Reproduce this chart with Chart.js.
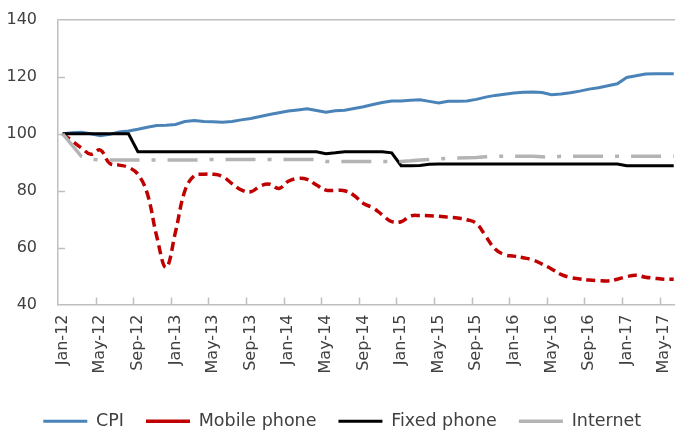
<!DOCTYPE html>
<html>
<head>
<meta charset="utf-8">
<script src="https://cdn.jsdelivr.net/npm/chart.js@4"></script>
<style>
  html, body { margin: 0; padding: 0; overflow: hidden; background: #fff; }
  #wrap { width: 696px; height: 440px; position: relative; }
</style>
</head>
<body>
<div id="wrap"><canvas id="lineChart"></canvas></div>
<script>
// months Jan-12 .. Jun-17
const months = [
  'Jan-12', 'Feb-12', 'Mar-12', 'Apr-12', 'May-12', 'Jun-12', 'Jul-12', 'Aug-12', 'Sep-12', 'Oct-12', 'Nov-12', 'Dec-12',
  'Jan-13', 'Feb-13', 'Mar-13', 'Apr-13', 'May-13', 'Jun-13', 'Jul-13', 'Aug-13', 'Sep-13', 'Oct-13', 'Nov-13', 'Dec-13',
  'Jan-14', 'Feb-14', 'Mar-14', 'Apr-14', 'May-14', 'Jun-14', 'Jul-14', 'Aug-14', 'Sep-14', 'Oct-14', 'Nov-14', 'Dec-14',
  'Jan-15', 'Feb-15', 'Mar-15', 'Apr-15', 'May-15', 'Jun-15', 'Jul-15', 'Aug-15', 'Sep-15', 'Oct-15', 'Nov-15', 'Dec-15',
  'Jan-16', 'Feb-16', 'Mar-16', 'Apr-16', 'May-16', 'Jun-16', 'Jul-16', 'Aug-16', 'Sep-16', 'Oct-16', 'Nov-16', 'Dec-16',
  'Jan-17', 'Feb-17', 'Mar-17', 'Apr-17', 'May-17', 'Jun-17'
];

const cpi = [
  100.0, 100.4, 100.5, 100.0, 99.3, 99.8, 100.6, 101.0, 101.6, 102.3, 102.9, 103.0,
  103.3, 104.3, 104.7, 104.3, 104.2, 104.1, 104.3, 104.9, 105.4, 106.1, 106.8, 107.4,
  108.0, 108.4, 108.8, 108.2, 107.6, 108.1, 108.3, 108.9, 109.5, 110.3, 111.0, 111.5,
  111.5, 111.8, 112.0, 111.4, 110.8, 111.4, 111.4, 111.5, 112.1, 112.9, 113.5, 113.9,
  114.3, 114.6, 114.7, 114.5, 113.7, 114.0, 114.4, 115.0, 115.7, 116.2, 116.9, 117.6,
  119.8, 120.4, 121.0, 121.1, 121.1, 121.1
];

const mobilePhone = [
  100.0, 97.5, 95.0, 92.8, 94.3, 89.6, 89.0, 88.2, 85.8, 79.0, 64.0, 53.0,
  65.5, 80.0, 85.3, 85.8, 85.8, 85.0, 82.5, 80.3, 79.6, 81.6, 82.3, 80.8,
  83.3, 84.3, 84.0, 82.0, 80.2, 80.1, 80.0, 78.3, 75.5, 74.0, 71.5, 69.1,
  69.1, 71.1, 71.3, 71.2, 71.0, 70.7, 70.4, 69.8, 68.5, 64.0, 59.5, 57.5,
  57.0, 56.4, 55.7, 54.2, 52.5, 50.6, 49.5, 49.0, 48.6, 48.4, 48.3, 48.9,
  49.8, 50.3, 49.6, 49.2, 48.9, 48.9
];

const fixedPhone = [
  100.0, 100.0, 100.0, 100.0, 100.0, 100.0, 100.0, 100.0, 93.7, 93.7, 93.7, 93.7,
  93.7, 93.7, 93.7, 93.7, 93.7, 93.7, 93.7, 93.7, 93.7, 93.7, 93.7, 93.7,
  93.7, 93.7, 93.7, 93.7, 93.0, 93.3, 93.7, 93.7, 93.7, 93.7, 93.7, 93.3,
  88.8, 88.8, 88.9, 89.3, 89.4, 89.4, 89.4, 89.4, 89.4, 89.4, 89.4, 89.4,
  89.4, 89.4, 89.4, 89.4, 89.4, 89.4, 89.4, 89.4, 89.4, 89.4, 89.4, 89.4,
  88.8, 88.8, 88.8, 88.8, 88.8, 88.8
];

const internet = [
  100.0, 96.0, 92.0, 91.0, 90.8, 90.8, 90.8, 90.8, 90.8, 90.8, 90.8, 90.8,
  90.8, 90.8, 90.8, 90.8, 91.0, 91.0, 91.0, 91.0, 91.0, 91.0, 91.0, 91.0,
  91.0, 91.0, 91.0, 91.0, 90.3, 90.3, 90.3, 90.3, 90.3, 90.3, 90.3, 90.3,
  90.3, 90.5, 90.8, 91.0, 91.2, 91.4, 91.5, 91.6, 91.7, 91.9, 92.1, 92.1,
  92.1, 92.1, 92.1, 91.9, 91.7, 92.1, 92.1, 92.1, 92.1, 92.1, 92.1, 92.1,
  92.1, 92.1, 92.1, 92.1, 92.1, 92.1
];

const yTicks = [40, 60, 80, 100, 120, 140];

const axisColor = '#bfbfbf';
const textColor = '#404040';
const fontFamily = "'DejaVu Sans', sans-serif";

// small tick marks drawn inside the plot, like the original
const innerTicks = {
  id: 'innerTicks',
  beforeDatasetsDraw(chart) {
    const { ctx, chartArea, scales } = chart;
    ctx.save();
    ctx.strokeStyle = axisColor;
    ctx.lineWidth = 1.5;
    ctx.beginPath();
    yTicks.forEach(v => {
      if (v > yTicks[0] && v < yTicks[yTicks.length - 1]) {
        const y = Math.round(scales.y.getPixelForValue(v)) + 0.5;
        ctx.moveTo(chartArea.left, y);
        ctx.lineTo(chartArea.left + 7, y);
      }
    });
    months.forEach((m, i) => {
      if (i > 0 && i % 4 === 0) {
        const x = Math.round((scales.x.getPixelForValue(i - 1) + scales.x.getPixelForValue(i)) / 2) + 0.5;
        ctx.moveTo(x, chartArea.bottom);
        ctx.lineTo(x, chartArea.bottom - 7);
      }
    });
    ctx.stroke();
    ctx.restore();
  }
};

const ctx = document.getElementById('lineChart').getContext('2d');
const chart = new Chart(ctx, {
  type: 'line',
  data: {
    labels: months,
    datasets: [
      { label: 'CPI', data: cpi, borderColor: '#4a83b8', borderWidth: 3, tension: 0, order: 4 },
      { label: 'Mobile phone', data: mobilePhone, borderColor: '#c00000', borderWidth: 3.5,
        borderDash: [9, 5], tension: 0.4, order: 3 },
      { label: 'Fixed phone', data: fixedPhone, borderColor: '#000000', borderWidth: 3, tension: 0, order: 2 },
      { label: 'Internet', data: internet, borderColor: '#b4b4b4', borderWidth: 3.5,
        borderDash: [30, 12, 4, 12], tension: 0, order: 1 }
    ]
  },
  options: {
    responsive: true,
    maintainAspectRatio: false,
    animation: false,
    devicePixelRatio: 1,
    elements: { point: { radius: 0 }, line: { fill: false } },
    layout: { padding: { top: 20, right: 11.6, left: 0, bottom: 0 } },
    scales: {
      x: {
        offset: true,
        grid: { color: 'transparent', tickColor: 'transparent', drawTicks: true, tickLength: 7 },
        border: { color: axisColor, width: 1.5 },
        ticks: {
          autoSkip: false,
          minRotation: 90,
          maxRotation: 90,
          padding: 3,
          color: textColor,
          font: { family: fontFamily, size: 16 },
          callback: function (val, i) { return i % 4 === 0 ? this.getLabelForValue(val) : ''; }
        },
        afterFit: scale => { scale.height = 86; }
      },
      y: {
        min: 40,
        max: 140,
        afterBuildTicks: scale => { scale.ticks = yTicks.map(v => ({ value: v })); },
        grid: {
          drawTicks: true,
          tickLength: 18,
          tickColor: 'transparent',
          lineWidth: 1.5,
          color: c => (c.tick && c.tick.value === 140 ? axisColor : 'transparent')
        },
        border: { color: axisColor, width: 1.5 },
        ticks: { padding: 3, color: textColor, font: { family: fontFamily, size: 16 } },
        afterFit: scale => { scale.width = 58; }
      }
    },
    plugins: {
      tooltip: { enabled: false },
      legend: {
        position: 'bottom',
        labels: {
          usePointStyle: true,
          pointStyle: 'line',
          pointStyleWidth: 44,
          padding: 22,
          color: textColor,
          font: { family: fontFamily, size: 17.5 },
          sort: (a, b) => a.datasetIndex - b.datasetIndex
        }
      }
    }
  },
  plugins: [innerTicks]
});
</script>
</body>
</html>
